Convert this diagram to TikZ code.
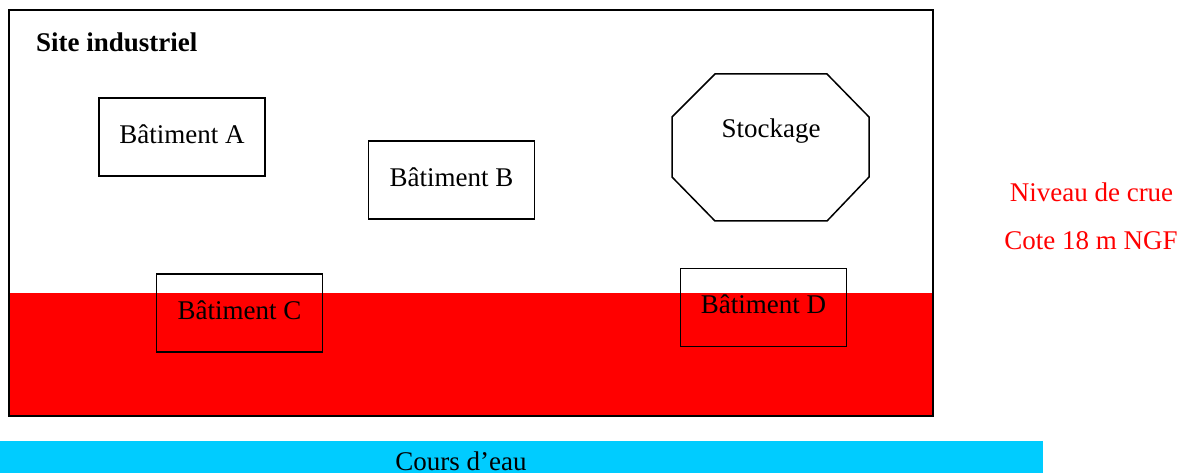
\documentclass[tikz,border=0pt]{standalone}
\usepackage{fontspec}
\setmainfont{Liberation Serif}
\usetikzlibrary{positioning}

\definecolor{crue}{RGB}{255,0,0}
\definecolor{eau}{RGB}{0,204,255}

\begin{document}
\begin{tikzpicture}[x=1pt,y=-1pt,
font=\fontsize{27}{32}\selectfont]
\tikzstyle{batiment}=[draw,line width=1.5pt,minimum width=166pt,minimum height=78pt,inner sep=0pt,text depth=6pt,align=center]
\tikzstyle{legende}=[anchor=base,inner sep=0pt]

\useasboundingbox (0,0) rectangle (1189,473);
\clip (0,0) rectangle (1189,473);

% zone inondable
\fill[crue] (9,293) rectangle (933,416);
\draw[line width=2pt] (9,10) rectangle (933,416);

\node[legende,anchor=base west,font=\fontsize{27}{32}\selectfont\bfseries] (T) at (36,52) {Site industriel};

\node[batiment]		(A) at (182,137)   {Bâtiment A};
\node[batiment]		(B) at (451.5,180) {Bâtiment B};
\node[batiment]		(C) at (239.5,313) {Bâtiment C};
\node[batiment]		(D) at (763.5,307.5) {Bâtiment D};

% stockage
\draw[line width=1.5pt] (715,74) -- (827,74) -- (869,117) -- (869,177) -- (827,221) -- (715,221) -- (672,177) -- (672,117) -- cycle;
\node[legende]		(S) at (771,138)   {Stockage};

\node[legende,text=crue] (N) at (1091.5,202) {Niveau de crue};
\node[legende,text=crue] (G) at (1091,250)   {Cote 18 m NGF};

% cours d'eau
\fill[eau] (0,441) rectangle (1043,480);
\node[legende]		(E) at (461,470)   {Cours d’eau};
\end{tikzpicture}
\end{document}
